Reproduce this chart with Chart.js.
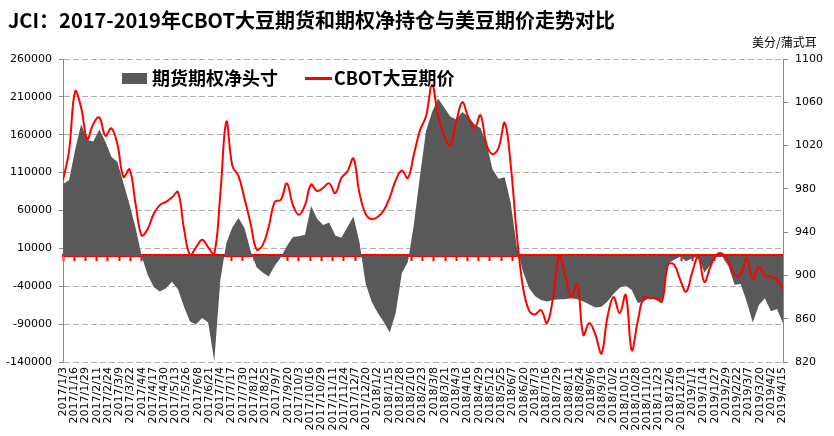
<!DOCTYPE html>
<html>
<head>
<meta charset="utf-8">
<script src="https://cdn.jsdelivr.net/npm/chart.js@4.4.1/dist/chart.umd.min.js"></script>
<style>
  html,body{margin:0;padding:0;background:#fff;}
  #wrap{position:relative;width:834px;height:436px;background:#fff;overflow:hidden;}
  #c{position:absolute;left:0;top:0;}
  .t{position:absolute;white-space:nowrap;color:#000;}
  #title{left:8px;top:8px;font-family:"Noto Sans CJK SC";font-weight:bold;font-size:20px;line-height:24px;}
  #unit{left:752px;top:34px;font-family:"Noto Sans CJK SC";font-size:12px;line-height:16px;}
  .lg{font-family:"Noto Sans CJK SC";font-weight:bold;font-size:18px;line-height:20px;top:67px;}
  #lgbox{position:absolute;left:122px;top:73px;width:25px;height:11px;background:#595959;}
  #lgline{position:absolute;left:305px;top:77px;width:27px;height:3px;background:#ff0000;}
</style>
</head>
<body>
<div id="wrap">
  <canvas id="c" width="834" height="436"></canvas>
  <div id="title" class="t">JCI：2017-2019年CBOT大豆期货和期权净持仓与美豆期价走势对比</div>
  <div id="unit" class="t">美分/蒲式耳</div>
  <div id="lgbox"></div>
  <div class="t lg" style="left:152px;">期货期权净头寸</div>
  <div id="lgline"></div>
  <div class="t lg" style="left:334px;">CBOT大豆期价</div>
</div>
<script>
// ---- data ----
const firstWeek = '2017/1/3';
const weekStepDays = 7;
const lastDay = 833;

const tickLabels = ['2017/1/3','2017/1/16','2017/1/29','2017/2/11','2017/2/24','2017/3/9','2017/3/22','2017/4/4','2017/4/17','2017/4/30','2017/5/13','2017/5/26','2017/6/8','2017/6/21','2017/7/4','2017/7/17','2017/7/30','2017/8/12','2017/8/25','2017/9/7','2017/9/20','2017/10/3','2017/10/16','2017/10/29','2017/11/11','2017/11/24','2017/12/7','2017/12/20','2018/1/2','2018/1/15','2018/1/28','2018/2/10','2018/2/23','2018/3/8','2018/3/21','2018/4/3','2018/4/16','2018/4/29','2018/5/12','2018/5/25','2018/6/7','2018/6/20','2018/7/3','2018/7/16','2018/7/29','2018/8/11','2018/8/24','2018/9/6','2018/9/19','2018/10/2','2018/10/15','2018/10/28','2018/11/10','2018/11/23','2018/12/6','2018/12/19','2019/1/1','2019/1/14','2019/1/27','2019/2/9','2019/2/22','2019/3/7','2019/3/20','2019/4/2','2019/4/15'];

const leftTicks = [-140000,-90000,-40000,10000,60000,110000,160000,210000,260000];
const rightTicks = [820,860,900,940,980,1020,1060,1100];

// weekly net position (futures + options), contracts
const netPosition = [
  95000,100000,140000,174000,153000,151000,167000,151000,131000,124000,
  96000,68000,37000,0,-25000,-41000,-47000,-43000,-34000,-44000,
  -67000,-87000,-90000,-82000,-88000,-139000,-32000,17000,38000,50000,
  37000,7000,-15000,-22000,-27000,-13000,-2000,13000,25000,26000,
  28000,66000,49000,41000,44000,27000,24000,38000,52000,18000,
  -36000,-60000,-75000,-87000,-101000,-75000,-23000,-8000,42000,106000,
  165000,190000,208000,196000,184000,180000,190000,184000,174000,169000,
  148000,114000,102000,104000,70000,12000,-20000,-42000,-53000,-58000,
  -60000,-58000,-57000,-57000,-56000,-57000,-60000,-64000,-68000,-67000,
  -60000,-50000,-42000,-39000,-45000,-62000,-60000,-55000,-58000,-62000,
  -10000,-5000,-1000,-7000,-3000,-1000,-22000,-12000,-1000,-1000,
  -14000,-38000,-37000,-60000,-88000,-65000,-56000,-73000,-70000,-89000
];

// weekly CBOT soybean price, cents/bushel
const soyPrice = [
  988,1015,1070,1055,1026,1040,1046,1029,1036,1021,
  991,998,966,937,943,957,965,968,972,977,
  943,919,926,933,926,920,975,1042,1001,992,
  971,948,924,928,945,968,970,985,965,956,
  965,984,978,981,985,976,990,996,1008,976,
  957,952,954,960,972,988,997,990,1012,1034,
  1047,1076,1047,1029,1020,1042,1060,1046,1036,1048,
  1021,1012,1018,1041,1002,938,890,868,864,868,
  856,880,918,900,880,892,845,856,845,828,
  862,880,865,882,831,858,880,879,879,876,
  910,910,896,885,903,917,894,908,919,920,
  913,900,901,916,897,908,900,899,896,888
];

// ---- helpers ----
function dayOffset(s){
  const [y,m,d] = s.split('/').map(Number);
  const [y0,m0,d0] = firstWeek.split('/').map(Number);
  return Math.round((Date.UTC(y,m-1,d) - Date.UTC(y0,m0-1,d0)) / 86400000);
}
const tickDays = tickLabels.map(dayOffset);
const netPts = netPosition.map((v,i)=>({x:i*weekStepDays, y:v}));
const pricePts = soyPrice.map((v,i)=>({x:i*weekStepDays, y:v}));
const setTicks = arr => s => { s.ticks = arr.map(v=>({value:v})); };

const tickFont = {family:'DejaVu Sans', size:11};

new Chart(document.getElementById('c'), {
  type:'line',
  data:{
    datasets:[
      {label:'CBOT大豆期价', data:pricePts, xAxisID:'x', yAxisID:'y1',
       borderColor:'#ff0000', borderWidth:2, pointRadius:0, tension:0.4, fill:false, order:0},
      {label:'期货期权净头寸', data:netPts, xAxisID:'x', yAxisID:'y',
       borderColor:'#595959', backgroundColor:'#595959', borderWidth:0, pointRadius:0,
       tension:0, fill:'origin', order:1}
    ]
  },
  options:{
    responsive:false, animation:false, devicePixelRatio:1,
    layout:{padding:{top:59,left:0,right:0,bottom:0}},
    plugins:{legend:{display:false}, title:{display:false}, tooltip:{enabled:false}},
    scales:{
      x:{type:'linear', position:'bottom', min:0, max:lastDay,
         afterBuildTicks:setTicks(tickDays),
         afterFit:s=>{s.height=74;},
         ticks:{autoSkip:false, minRotation:90, maxRotation:90, padding:5, font:tickFont, color:'#000',
                callback:(v,i)=>tickLabels[i]},
         grid:{display:false, drawTicks:false},
         border:{display:false}},
      x2:{type:'linear', position:{y:0}, min:0, max:lastDay, z:1,
         afterBuildTicks:setTicks(tickDays),
         ticks:{display:false},
         grid:{display:true, drawOnChartArea:false, drawTicks:true, tickLength:4, tickColor:'#ff0000', tickWidth:2},
         border:{display:true, color:'#ff0000', width:3}},
      y:{type:'linear', position:'left', min:-140000, max:260000,
         afterBuildTicks:setTicks(leftTicks),
         afterFit:s=>{s.width=63;},
         ticks:{font:tickFont, color:'#000', padding:7, callback:v=>String(v)},
         grid:{color:'#b0b0b0', lineWidth:1, drawTicks:true, tickLength:4, tickColor:'#888', tickWidth:1},
         border:{display:true, color:'#888', width:1, dash:[6,3]}},
      y1:{type:'linear', position:'right', min:820, max:1100,
         afterBuildTicks:setTicks(rightTicks),
         afterFit:s=>{s.width=51;},
         ticks:{font:tickFont, color:'#000', padding:7, callback:v=>String(v)},
         grid:{drawOnChartArea:false, drawTicks:true, tickLength:5, tickColor:'#888'},
         border:{display:true, color:'#888', width:1}}
    }
  }
});
</script>
</body>
</html>
